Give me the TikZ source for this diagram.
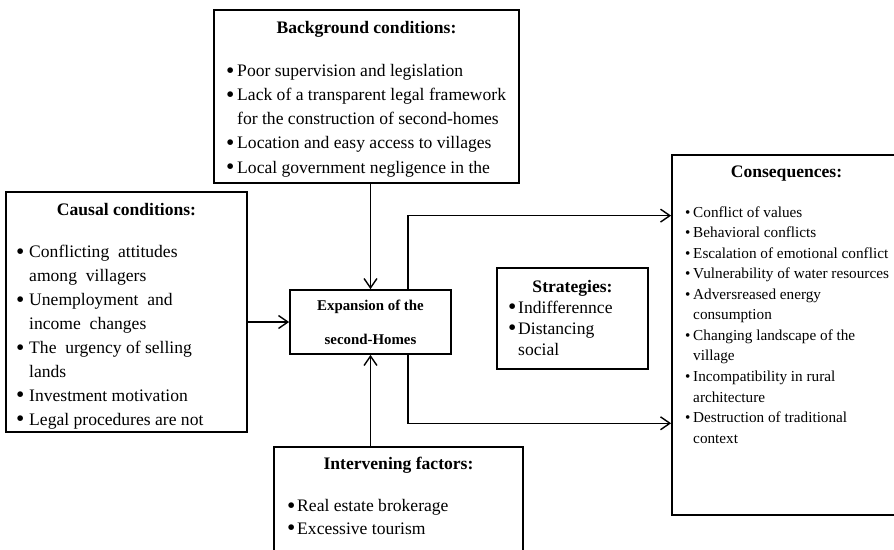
\documentclass[tikz,border=0pt]{standalone}
\usepackage{fontspec}
\setmainfont{Liberation Serif}
\usetikzlibrary{calc,%
                fit,%
                positioning,%
                arrows.meta}

\newlength{\px}
\setlength{\px}{0.03cm}
\newcommand{\bigbul}{\raisebox{-0.1em}{\scalebox{1.35}{\textbullet}}}
\newcommand{\bul}[1][11\px]{\makebox[#1][l]{\bigbul}}
\newcommand{\sbul}[1][8\px]{\makebox[#1][l]{\textbullet}}
\newcommand{\itemgap}[1][11\px]{\hspace*{#1}}

\tikzset{
  box/.style={draw, line width=1.5pt, inner sep=0pt},
  title/.style={font=\bfseries\fontsize{15pt}{18pt}\selectfont, anchor=base, inner sep=0pt},
  list/.style={align=left, anchor=base west, inner sep=0pt},
  link/.style={line width=1.2pt, -{Straight Barb[length=8pt,width=11pt]}},
}

\begin{document}
\begin{tikzpicture}[x=0.03cm, y=-0.03cm]
  \useasboundingbox (0,0) rectangle (894,549);
  \clip (0,0) rectangle (894,549);

  % boxes
  \node[box, fit={(214,10) (519,183)}] (bg) {};
  \node[box, fit={(6,192) (247,432)}] (cause) {};
  \node[box, fit={(290,290) (451,354)}] (main) {};
  \node[box, fit={(497,268) (648,369)}] (strat) {};
  \node[box, fit={(672,155) (901,515)}] (cons) {};
  \node[box, fit={(274,447) (523,575)}] (inter) {};

  % Background conditions (lists sit on their last baseline)
  \node[title] (bg-title) at (bg.north |- 0,33) {Background conditions:};
  \node[list, font=\fontsize{15pt}{20.5pt}\selectfont] (bg-list) at (226,173)
    {\bul Poor supervision and legislation\\
     \bul Lack of a transparent legal framework\\
     \itemgap for the construction of second-homes\\
     \bul Location and easy access to villages\\
     \bul Local government negligence in the};

  % Causal conditions
  \node[title] (cause-title) at (cause.north |- 0,215) {Causal conditions:};
  \node[list, font=\fontsize{15pt}{20.4pt}\selectfont] (cause-list) at (16,425)
    {\bul[13\px]Conflicting~ attitudes\\
     \itemgap[13\px]among~ villagers\\
     \bul[13\px]Unemployment~ and\\
     \itemgap[13\px]income~ changes\\
     \bul[13\px]The~ urgency of selling\\
     \itemgap[13\px]lands\\
     \bul[13\px]Investment motivation\\
     \bul[13\px]Legal procedures are not};

  % Expansion
  \node[font=\bfseries\fontsize{12.7pt}{29pt}\selectfont, align=center, inner sep=0pt]
    (main-text) at (main.center) {Expansion of the\\second-Homes};

  % Strategies
  \node[title] (strat-title) at (strat.north |- 0,292) {Strategies:};
  \node[list, font=\fontsize{15pt}{17.9pt}\selectfont] (strat-list) at (508,355)
    {\bul[10\px]Indifferennce\\
     \bul[10\px]Distancing\\
     \itemgap[10\px]social};

  % Consequences
  \node[title] (cons-title) at (cons.north |- 0,177) {Consequences:};
  \node[list, font=\fontsize{13pt}{17.5pt}\selectfont] (cons-list) at (685,443)
    {\sbul Conflict of values\\
     \sbul Behavioral conflicts\\
     \sbul Escalation of emotional conflict\\
     \sbul Vulnerability of water resources\\
     \sbul Adversreased energy\\
     \itemgap[8\px]consumption\\
     \sbul Changing landscape of the\\
     \itemgap[8\px]village\\
     \sbul Incompatibility in rural\\
     \itemgap[8\px]architecture\\
     \sbul Destruction of traditional\\
     \itemgap[8\px]context};

  % Intervening factors
  \node[title] (inter-title) at (inter.north |- 0,469) {Intervening factors:};
  \node[list, font=\fontsize{15pt}{18.8pt}\selectfont] (inter-list) at (287,534)
    {\bul[10\px]Real estate brokerage\\
     \bul[10\px]Excessive tourism};

  % connectors
  \draw[link] (bg.south -| main.north) -- (main.north);
  \draw[link] (cause.east |- main.west) -- (main.west);
  \draw[link] (inter.north -| main.south) -- (main.south);

  \coordinate (out-up) at ($(main.north west)!0.73!(main.north east)$);
  \coordinate (out-down) at ($(main.south west)!0.73!(main.south east)$);
  \coordinate (in-up) at ($(cons.north west)!0.17!(cons.south west)$);
  \coordinate (in-down) at ($(cons.north west)!0.744!(cons.south west)$);
  \draw[link] (out-up) |- (in-up);
  \draw[link] (out-down) |- (in-down);
\end{tikzpicture}
\end{document}
